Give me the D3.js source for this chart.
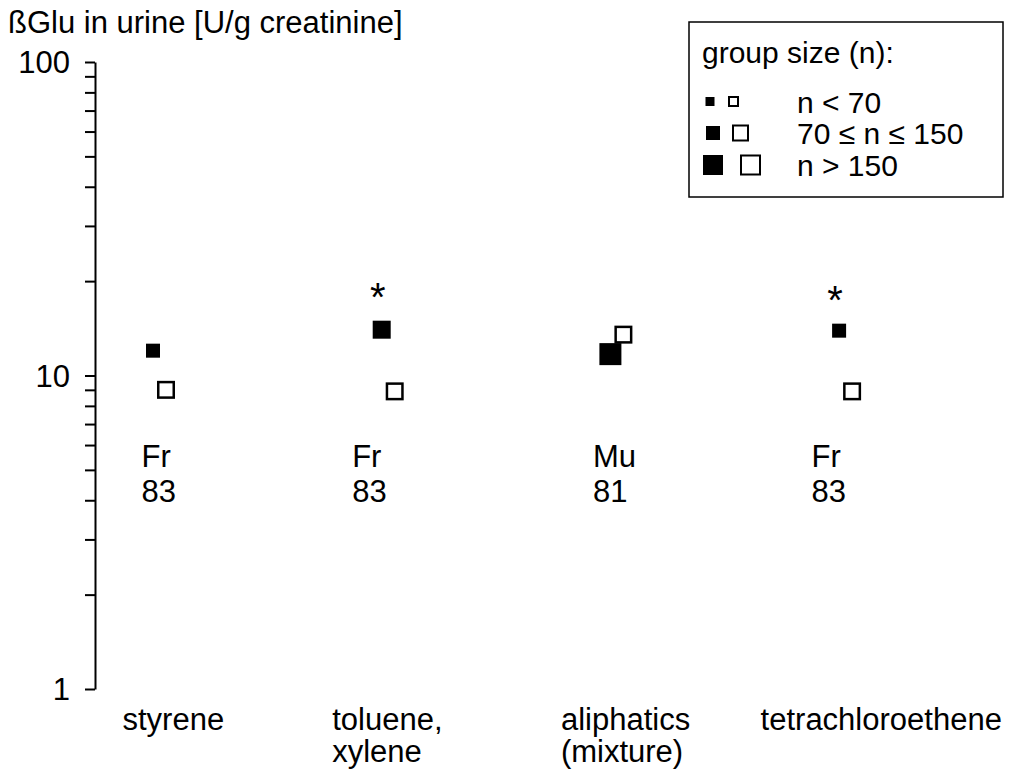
<!DOCTYPE html>
<html>
<head>
<meta charset="utf-8">
<script src="https://cdn.jsdelivr.net/npm/d3@7/dist/d3.min.js"></script>
<style>
  html, body { margin: 0; padding: 0; background: #fff; }
  svg { display: block; font-family: "Liberation Sans", Arial, sans-serif; }
</style>
</head>
<body>
<svg id="chart" width="1017" height="776"></svg>
<script>
// ---- data ----
const categories = ["styrene", "toluene, xylene", "aliphatics (mixture)", "tetrachloroethene"];
const categoryLines = [["styrene"], ["toluene,", "xylene"], ["aliphatics", "(mixture)"], ["tetrachloroethene"]];
const exposedValues = [12.0, 14.0, 11.7, 13.9];
const controlValues = [9.0, 8.9, 13.5, 8.9];
const exposedGroupSize = ["small", "medium", "large", "small"];
const controlGroupSize = ["medium", "medium", "medium", "medium"];
const significant = [false, true, false, true];
const studyCodes = ["Fr", "Fr", "Mu", "Fr"];
const studyYears = ["83", "83", "81", "83"];
const yTickValues = [1, 2, 3, 4, 5, 6, 7, 8, 9, 10, 20, 30, 40, 50, 60, 70, 80, 90, 100];
const yTickLabels = { 1: "1", 10: "10", 100: "100" };
const legendTitle = "group size (n):";
const legendClasses = ["small", "medium", "large"];
const legendLabels = ["n < 70", "70 \u2264 n \u2264 150", "n > 150"];
const yTitle = "\u00DFGlu in urine [U/g creatinine]";

// ---- layout ----
const svg = d3.select("#chart");
const FS = 31;
const LFS = 30;
const axisX = 95;
const y = d3.scaleLog().domain([1, 100]).range([689, 62]);
const x = d3.scalePoint().domain(categories).range([159.5, 845.6]);
const markerOffset = 6.5;
const filledPx = { small: 14, medium: 18, large: 22 };
const openPx = { small: 14, medium: 18, large: 22 };
const legendFilledPx = { small: 9, medium: 14, large: 20 };
const legendOpenPx = { small: 11, medium: 17, large: 21 };
const noteDx = [-18, -36, -24, -34];
const labelDx = [-37, -56, -56, -85];

// title
svg.append("text").attr("x", 8).attr("y", 33).attr("font-size", FS).text(yTitle);

// y axis
const axis = d3.axisLeft(y)
  .tickValues(yTickValues)
  .tickFormat(d => yTickLabels[d] || "")
  .tickSize(10)
  .tickSizeOuter(0)
  .tickPadding(15);
const gAxis = svg.append("g").attr("transform", `translate(${axisX},0)`).call(axis);
gAxis.select(".domain").attr("stroke", "#000").attr("stroke-width", 2);
gAxis.selectAll(".tick line").attr("stroke", "#000").attr("stroke-width", 2);
gAxis.selectAll(".tick text").attr("font-size", FS).attr("fill", "#000")
  .attr("font-family", "Liberation Sans, Arial, sans-serif").attr("dy", "0.35em");

// markers
const gData = svg.append("g");
categories.forEach((c, i) => {
  const cx = x(c);
  // control (open)
  const so = openPx[controlGroupSize[i]];
  gData.append("rect")
    .attr("x", cx + markerOffset - so / 2 + 1.25).attr("y", y(controlValues[i]) - so / 2 + 1.25)
    .attr("width", so - 2.5).attr("height", so - 2.5)
    .attr("fill", "#fff").attr("stroke", "#000").attr("stroke-width", 2.5);
  // exposed (filled)
  const sf = filledPx[exposedGroupSize[i]];
  gData.append("rect")
    .attr("x", cx - markerOffset - sf / 2).attr("y", y(exposedValues[i]) - sf / 2)
    .attr("width", sf).attr("height", sf).attr("fill", "#000");
  if (significant[i]) {
    gData.append("text")
      .attr("x", cx - markerOffset - 4).attr("y", y(exposedValues[i]) - sf / 2 - 10)
      .attr("text-anchor", "middle").attr("font-size", 40).text("*");
  }
  // study notes
  gData.append("text").attr("x", cx + noteDx[i]).attr("y", 467).attr("font-size", FS).text(studyCodes[i]);
  gData.append("text").attr("x", cx + noteDx[i]).attr("y", 502).attr("font-size", FS).text(studyYears[i]);
  // category labels
  categoryLines[i].forEach((line, j) => {
    svg.append("text").attr("x", cx + labelDx[i]).attr("y", 730 + j * 32)
      .attr("font-size", FS).text(line);
  });
});

// legend
const gL = svg.append("g");
gL.append("rect").attr("x", 689).attr("y", 22).attr("width", 314).attr("height", 175)
  .attr("fill", "#fff").attr("stroke", "#000").attr("stroke-width", 1.5);
gL.append("text").attr("x", 702).attr("y", 63).attr("font-size", LFS).text(legendTitle);
const rowY = [101.5, 133, 165];
const openCx = [733.5, 740.5, 750.5];
legendClasses.forEach((k, i) => {
  const sf = legendFilledPx[k], so = legendOpenPx[k];
  gL.append("rect").attr("x", 713 - sf / 2 - (i === 0 ? 3 : 0)).attr("y", rowY[i] - sf / 2)
    .attr("width", sf).attr("height", sf).attr("fill", "#000");
  gL.append("rect").attr("x", openCx[i] - so / 2 + 1).attr("y", rowY[i] - so / 2 + 1)
    .attr("width", so - 2).attr("height", so - 2)
    .attr("fill", "#fff").attr("stroke", "#000").attr("stroke-width", 2);
  gL.append("text").attr("x", 797).attr("y", rowY[i] + 11).attr("font-size", LFS).text(legendLabels[i]);
});
</script>
</body>
</html>
